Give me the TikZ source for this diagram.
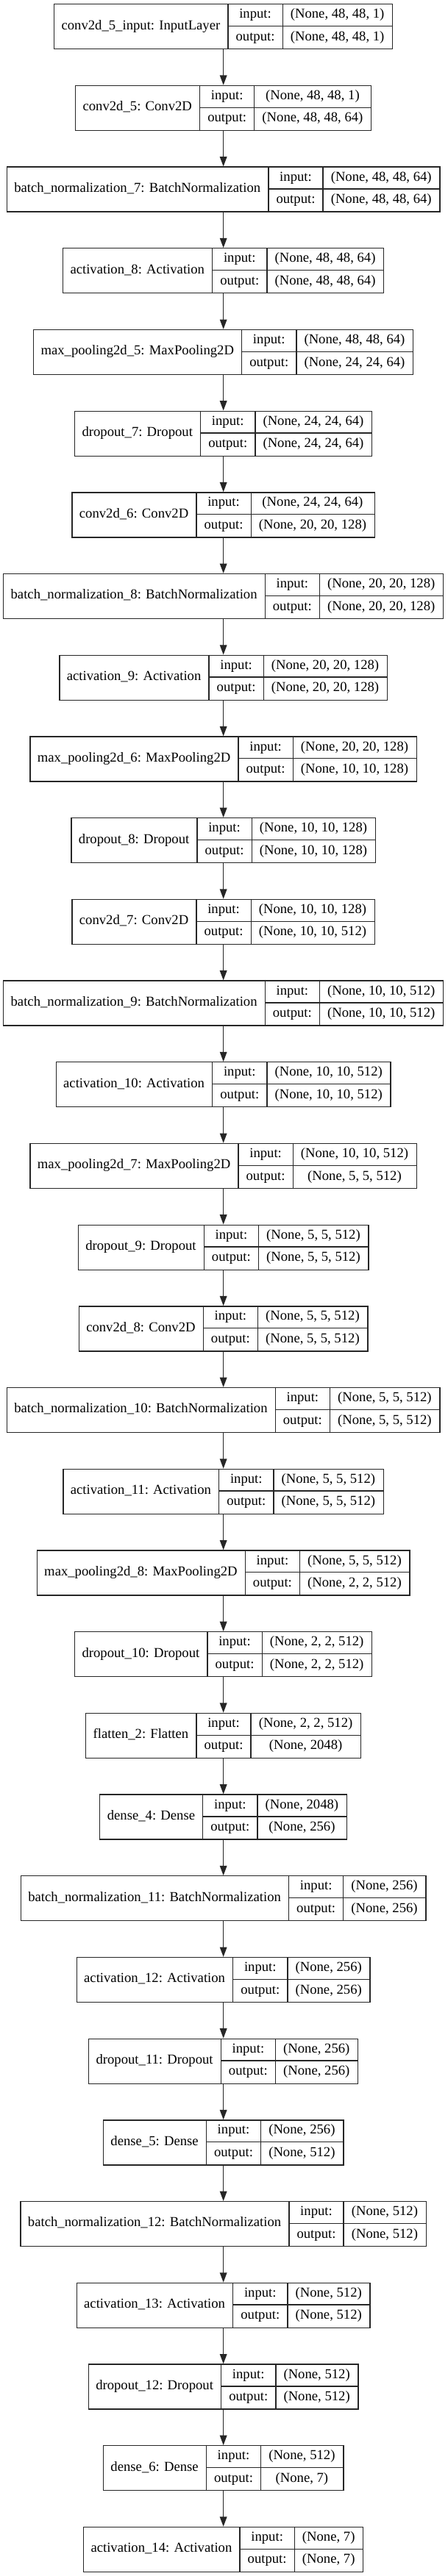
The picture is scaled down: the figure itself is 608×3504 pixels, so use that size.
\documentclass[tikz,border=0pt]{standalone}
\usepackage{fontspec}
\setmainfont{Liberation Serif}
\usetikzlibrary{arrows.meta}
\newlength\kwa \newlength\kwb \newlength\kwc \newlength\kwt
\font\kraw="Liberation Serif" at 18.67pt
\tikzset{
  kbox/.style={draw=black!85, line width=1.33pt, fill=white, minimum height=61pt, inner sep=0pt, rectangle},
  kline/.style={draw=black!85, line width=1.33pt},
  ktext/.style={anchor=base, inner sep=0pt, font=\kraw, text=black},
  karr/.style={draw=black!85, line width=1.33pt, -{Triangle[length=13.3pt, width=9.6pt]}},
}
\newcommand\klayer[4]{%
  \settowidth\kwa{\kraw #2}\addtolength\kwa{21.33pt}%
  \settowidth\kwb{\kraw output:}\addtolength\kwb{21.33pt}%
  \settowidth\kwc{\kraw #3}\settowidth\kwt{\kraw #4}%
  \ifdim\kwt>\kwc \kwc=\kwt\fi
  \addtolength\kwc{21.33pt}%
  \pgfmathsetmacro\kW{\kwa+\kwb+\kwc}%
  \pgfmathsetmacro\kL{303-\kW/2}%
  \pgfmathsetmacro\kA{\kL+\kwa}%
  \pgfmathsetmacro\kB{\kA+\kwb}%
  \pgfmathsetmacro\kR{\kL+\kW}%
  \pgfmathsetmacro\kT{-(5+110.7*#1)}%
  \pgfmathsetmacro\kM{\kT-30.5}%
  \pgfmathsetmacro\kBot{\kT-61}%
  \node[kbox, minimum width=\kW pt, anchor=north west] (n#1) at (\kL,\kT) {};
  \draw[kline] (\kA,\kT) -- (\kA,\kBot) (\kB,\kT) -- (\kB,\kBot) (\kA,\kM) -- (\kR,\kM);
  \node[ktext] (n#1l) at ({(\kL+\kA)/2},\kM-4.5) {#2};
  \node[ktext] (n#1i) at ({(\kA+\kB)/2},\kT-19.75) {input:};
  \node[ktext] (n#1o) at ({(\kA+\kB)/2},\kT-50.25) {output:};
  \node[ktext] (n#1vi) at ({(\kB+\kR)/2},\kT-19.75) {#3};
  \node[ktext] (n#1vo) at ({(\kB+\kR)/2},\kT-50.25) {#4};
}
\begin{document}
\begin{tikzpicture}[x=1pt,y=1pt]
\useasboundingbox (0,0) rectangle (608,-3504);
\fill[white] (0,0) rectangle (608,-3504);
\klayer{0}{conv2d\_5\_input: InputLayer}{(None, 48, 48, 1)}{(None, 48, 48, 1)}
\klayer{1}{conv2d\_5: Conv2D}{(None, 48, 48, 1)}{(None, 48, 48, 64)}
\klayer{2}{batch\_normalization\_7: BatchNormalization}{(None, 48, 48, 64)}{(None, 48, 48, 64)}
\klayer{3}{activation\_8: Activation}{(None, 48, 48, 64)}{(None, 48, 48, 64)}
\klayer{4}{max\_pooling2d\_5: MaxPooling2D}{(None, 48, 48, 64)}{(None, 24, 24, 64)}
\klayer{5}{dropout\_7: Dropout}{(None, 24, 24, 64)}{(None, 24, 24, 64)}
\klayer{6}{conv2d\_6: Conv2D}{(None, 24, 24, 64)}{(None, 20, 20, 128)}
\klayer{7}{batch\_normalization\_8: BatchNormalization}{(None, 20, 20, 128)}{(None, 20, 20, 128)}
\klayer{8}{activation\_9: Activation}{(None, 20, 20, 128)}{(None, 20, 20, 128)}
\klayer{9}{max\_pooling2d\_6: MaxPooling2D}{(None, 20, 20, 128)}{(None, 10, 10, 128)}
\klayer{10}{dropout\_8: Dropout}{(None, 10, 10, 128)}{(None, 10, 10, 128)}
\klayer{11}{conv2d\_7: Conv2D}{(None, 10, 10, 128)}{(None, 10, 10, 512)}
\klayer{12}{batch\_normalization\_9: BatchNormalization}{(None, 10, 10, 512)}{(None, 10, 10, 512)}
\klayer{13}{activation\_10: Activation}{(None, 10, 10, 512)}{(None, 10, 10, 512)}
\klayer{14}{max\_pooling2d\_7: MaxPooling2D}{(None, 10, 10, 512)}{(None, 5, 5, 512)}
\klayer{15}{dropout\_9: Dropout}{(None, 5, 5, 512)}{(None, 5, 5, 512)}
\klayer{16}{conv2d\_8: Conv2D}{(None, 5, 5, 512)}{(None, 5, 5, 512)}
\klayer{17}{batch\_normalization\_10: BatchNormalization}{(None, 5, 5, 512)}{(None, 5, 5, 512)}
\klayer{18}{activation\_11: Activation}{(None, 5, 5, 512)}{(None, 5, 5, 512)}
\klayer{19}{max\_pooling2d\_8: MaxPooling2D}{(None, 5, 5, 512)}{(None, 2, 2, 512)}
\klayer{20}{dropout\_10: Dropout}{(None, 2, 2, 512)}{(None, 2, 2, 512)}
\klayer{21}{flatten\_2: Flatten}{(None, 2, 2, 512)}{(None, 2048)}
\klayer{22}{dense\_4: Dense}{(None, 2048)}{(None, 256)}
\klayer{23}{batch\_normalization\_11: BatchNormalization}{(None, 256)}{(None, 256)}
\klayer{24}{activation\_12: Activation}{(None, 256)}{(None, 256)}
\klayer{25}{dropout\_11: Dropout}{(None, 256)}{(None, 256)}
\klayer{26}{dense\_5: Dense}{(None, 256)}{(None, 512)}
\klayer{27}{batch\_normalization\_12: BatchNormalization}{(None, 512)}{(None, 512)}
\klayer{28}{activation\_13: Activation}{(None, 512)}{(None, 512)}
\klayer{29}{dropout\_12: Dropout}{(None, 512)}{(None, 512)}
\klayer{30}{dense\_6: Dense}{(None, 512)}{(None, 7)}
\klayer{31}{activation\_14: Activation}{(None, 7)}{(None, 7)}
\foreach \i [evaluate=\i as \j using int(\i+1)] in {0,...,30} {
  \draw[karr] (n\i.south) -- (n\j.north);
}
\end{tikzpicture}
\end{document}
